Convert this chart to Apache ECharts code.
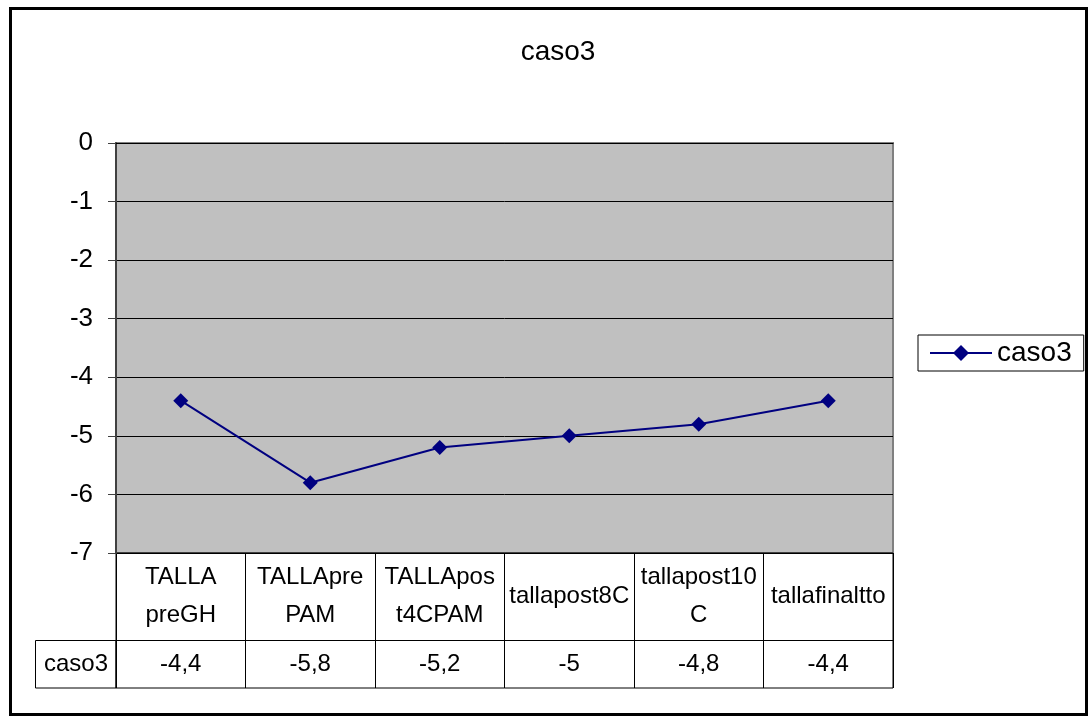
<!DOCTYPE html>
<html>
<head>
<meta charset="utf-8">
<script src="https://cdn.jsdelivr.net/npm/echarts@6/dist/echarts.min.js"></script>
<style>
  html, body { margin: 0; padding: 0; background: #ffffff; }
  #chart { width: 1091px; height: 727px; }
</style>
</head>
<body>
<div id="chart"></div>
<script>
// Categories as shown in the data-table header (line breaks as wrapped in the cells)
const categories = ['TALLA\npreGH', 'TALLApre\nPAM', 'TALLApos\nt4CPAM', 'tallapost8C', 'tallapost10\nC', 'tallafinaltto'];
// Series values
const seriesName = 'caso3';
const caso3 = [-4.4, -5.8, -5.2, -5, -4.8, -4.4];
// Y axis range and step
const yMin = -7, yMax = 0, yStep = 1;

const FONT = '"Liberation Sans", Arial, sans-serif';
// Decimal comma, as in the table row
const fmt = v => String(v).replace('.', ',');

const chart = echarts.init(document.getElementById('chart'), null, { renderer: 'canvas' });

chart.setOption({
  animation: false,
  backgroundColor: '#ffffff',
  textStyle: { fontFamily: FONT, color: '#000' },
  title: {
    text: seriesName,
    left: 553,
    top: 33,
    textAlign: 'center',
    textStyle: { fontFamily: FONT, fontSize: 28, fontWeight: 'normal', color: '#000' }
  },
  legend: {
    data: [seriesName],
    left: 918,
    top: 335,
    orient: 'vertical',
    padding: [4, 12, 4, 11],
    borderColor: '#000',
    borderWidth: 1,
    backgroundColor: '#fff',
    itemWidth: 62,
    itemHeight: 20,
    textStyle: { fontFamily: FONT, fontSize: 28, color: '#000' }
  },
  grid: [
    {
      // plot area
      left: 116, top: 143, right: 198, bottom: 174,
      show: true,
      backgroundColor: '#c0c0c0',
      borderColor: '#808080',
      borderWidth: 2
    },
    {
      // data table under the plot
      left: 116, top: 553, right: 198, bottom: 39,
      show: true,
      backgroundColor: 'transparent',
      borderColor: '#000',
      borderWidth: 1
    }
  ],
  xAxis: [
    {
      gridIndex: 0,
      type: 'category',
      data: categories,
      boundaryGap: true,
      axisLine: { show: true, lineStyle: { color: '#000', width: 1 } },
      axisTick: { show: false },
      axisLabel: { show: false },
      splitLine: { show: false }
    },
    {
      // header row of the table: category names, column separators
      gridIndex: 1,
      type: 'category',
      data: categories,
      position: 'top',
      boundaryGap: true,
      axisLine: { show: false },
      axisTick: { show: false },
      axisLabel: {
        inside: true,
        interval: 0,
        margin: 43,
        verticalAlign: 'middle',
        align: 'center',
        lineHeight: 38,
        fontFamily: FONT,
        fontSize: 24,
        color: '#000'
      },
      splitLine: { show: true, interval: 0, lineStyle: { color: '#000', width: 1 } }
    },
    {
      // value row of the table
      gridIndex: 1,
      type: 'category',
      data: categories,
      position: 'bottom',
      offset: -48,
      boundaryGap: true,
      axisLine: { show: true, lineStyle: { color: '#000', width: 1 } },
      axisTick: { show: false },
      axisLabel: {
        interval: 0,
        margin: 24,
        verticalAlign: 'middle',
        fontFamily: FONT,
        fontSize: 24,
        color: '#000',
        formatter: (v, i) => fmt(caso3[i])
      },
      splitLine: { show: false }
    }
  ],
  yAxis: [
    {
      gridIndex: 0,
      type: 'value',
      min: yMin,
      max: yMax,
      interval: yStep,
      axisLine: { show: true, lineStyle: { color: '#404040', width: 2 } },
      axisTick: { show: true, length: 8, lineStyle: { color: '#404040', width: 1 } },
      axisLabel: { margin: 23, fontFamily: FONT, fontSize: 26, color: '#000' },
      splitLine: { show: true, lineStyle: { color: '#000', width: 1 } }
    },
    {
      gridIndex: 1,
      type: 'value',
      show: false,
      min: 0,
      max: 1
    }
  ],
  series: [{
    name: seriesName,
    type: 'line',
    data: caso3,
    xAxisIndex: 0,
    yAxisIndex: 0,
    symbol: 'diamond',
    symbolSize: 15,
    color: '#000080',
    lineStyle: { color: '#000080', width: 2 },
    itemStyle: { color: '#000080' }
  }],
  graphic: [
    {
      // outer chart frame
      type: 'rect',
      shape: { x: 10.5, y: 8.5, width: 1076, height: 706 },
      style: { fill: 'none', stroke: '#000', lineWidth: 3 },
      silent: true
    },
    {
      // series name cell of the data table
      type: 'rect',
      shape: { x: 35.5, y: 640.5, width: 80.5, height: 47.5 },
      style: { fill: 'none', stroke: '#000', lineWidth: 1 },
      silent: true
    },
    {
      type: 'text',
      x: 76,
      y: 664,
      style: {
        text: seriesName,
        fontFamily: FONT,
        fontSize: 24,
        fill: '#000',
        align: 'center',
        verticalAlign: 'middle'
      },
      silent: true
    }
  ]
});
</script>
</body>
</html>
